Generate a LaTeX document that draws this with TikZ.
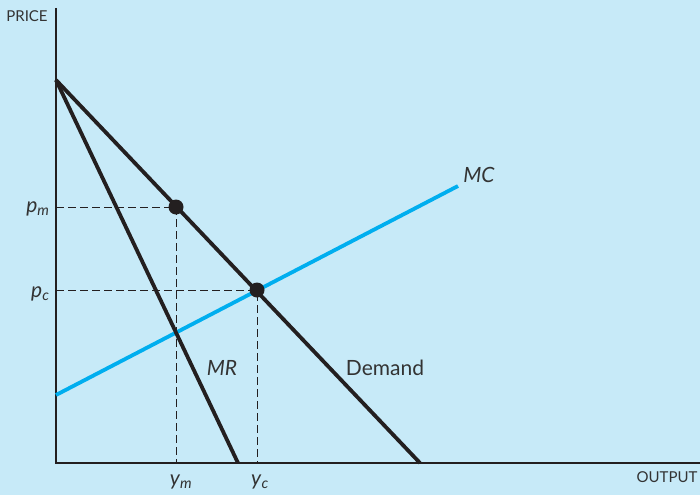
\documentclass[tikz,border=0pt]{standalone}
\usepackage{fontspec}
\setmainfont{Lato}
\usetikzlibrary{positioning,calc}
\definecolor{bgblue}{HTML}{C7EAF8}
\definecolor{mcblue}{HTML}{00AEEF}
\definecolor{inkblack}{HTML}{231F20}
\definecolor{labelgray}{HTML}{333333}
\newcommand{\ilab}[2]{\textit{#1}\textsubscript{\textit{#2}}}

\begin{document}
\begin{tikzpicture}[x=1pt,y=-1pt,
  curve/.style={line width=3.8pt,inkblack},
  axisline/.style={line width=2.6pt,inkblack},
  guide/.style={line width=0.8pt,inkblack,dash pattern=on 8pt off 4pt},
  eqdot/.style={circle,fill=inkblack,inner sep=0pt,minimum size=15pt},
  axlbl/.style={font=\fontsize{15}{15}\selectfont,labelgray},
  lbl/.style={font=\fontsize{21}{21}\selectfont,labelgray}]

\fill[bgblue] (0,0) rectangle (700,495);
\useasboundingbox (0,0) rectangle (700,495);

% axes
\coordinate (O) at (56,463);
\coordinate (ytop) at (56,8);
\coordinate (xend) at (700,463);
\draw[axisline] (ytop) -- (O) -- (xend);
\node[axlbl] (price) at (27,16) {PRICE};
\node[axlbl] (output) at (667,477) {OUTPUT};

% curves
\coordinate (dtop) at (56,80);
\coordinate (dend) at (420,463);
\coordinate (mrend) at (238,463);
\coordinate (mcstart) at (56,395);
\coordinate (mcend) at (458,186);
\draw[line width=3.8pt,mcblue] (mcstart) -- (mcend);
\draw[curve] (dtop) -- (dend);
\draw[curve] (dtop) -- (mrend);

% equilibria
\node[eqdot] (mono) at (176,207) {};
\node[eqdot] (comp) at (257,290) {};
\draw[guide] (O |- mono) -- (mono.center) -- (mono |- O);
\draw[guide] (O |- comp) -- (comp.center) -- (comp |- O);

% labels
\node[lbl,anchor=east] (pm) at ($(O |- mono)+(-3,2)$) {\ilab{p}{m}};
\node[lbl,anchor=east] (pc) at ($(O |- comp)+(-3,4)$) {\ilab{p}{c}};
\node[lbl] (ym) at ($(mono |- O)+(5,19)$) {\ilab{y}{m}};
\node[lbl] (yc) at ($(comp |- O)+(3,19)$) {\ilab{y}{c}};
\node[lbl] (mc) at (479,175) {\textit{MC}};
\node[lbl] (mr) at (222,368) {\textit{MR}};
\node[lbl] (dem) at (385,368) {Demand};

\end{tikzpicture}
\end{document}
